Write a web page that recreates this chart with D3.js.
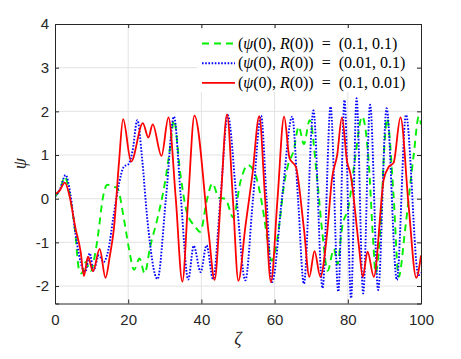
<!DOCTYPE html>
<html>
<head>
<meta charset="utf-8">
<script src="https://cdn.jsdelivr.net/npm/d3@7"></script>
<style>
  body { margin: 0; background: #fff; }
  .axis text { font-family: "Liberation Sans", Arial, sans-serif; font-size: 15px; fill: #262626; }
  .axis path, .axis line { stroke: #262626; }
</style>
</head>
<body>
<div id="chart"></div>
<script>
// Tick values
const xTicks = [0, 20, 40, 60, 80, 100];
const yTicks = [-2, -1, 0, 1, 2, 3, 4];

// Legend labels: [psi0, R0]
const legendLabels = [["0.1", "0.1"], ["0.01", "0.1"], ["0.1", "0.01"]];

// (psi(0), R(0)) = (0.1, 0.1) -- green dashed
const greenZeta = [0, 1.3, 2.7, 4.2, 5.5, 6.5, 7.3, 8.4, 9.7, 11.0, 12.0, 12.9, 14.3, 15.8, 17.0, 18.8, 20.2, 21.6, 23.1, 24.5,
  26.0, 28.0, 30.0, 31.5, 32.5, 34.2, 36.0, 38.3, 39.7, 41.5, 43.0, 44.8, 46.5, 48.7, 50.7, 52.7, 54.8, 56.6, 58.0, 59.2,
  61.5, 62.3, 63.6, 65.2, 66.6, 68.0, 69.6, 71.6, 73.0, 74.5, 76.2, 77.2, 78.4, 80.3, 82.1, 83.9, 85.7, 87.0, 87.6, 88.9,
  90.2, 90.7, 92.5, 93.9, 95.7, 98.0, 99.4, 100];
const greenPsi = [0.05, 0.2, 0.5, 0.0, -0.75, -1.6, -1.71, -1.45, -1.66, -1.25, -0.68, -0.07, 0.32, 0.28, 0.25, -0.45, -1.14, -1.63, -1.37, -1.71,
  -1.1, -0.45, 0.35, 1.2, 1.8, 0.6, -0.3, -0.64, -0.76, -0.03, 0.35, 0.02, 0.0, -0.43, 0.4, 0.77, 0.54, -0.14, -0.9, -1.42,
  -0.45, 0.15, 0.75, 1.1, 1.65, 1.25, 1.8, 0.47, -0.75, -1.65, -1.15, -1.5, -0.68, -0.14, 1.0, 1.88, 0.85, -1.06, -1.7, -0.68,
  1.46, 1.84, 0.08, -1.79, -0.68, 1.0, 1.88, 1.7];

// (psi(0), R(0)) = (0.01, 0.1) -- blue dotted
const blueZeta = [0, 1.3, 2.9, 4.2, 5.6, 7.5, 8.3, 9.5, 10.5, 12.0, 13.3, 14.5, 16.0, 17.5, 18.8, 20.2, 21.2, 22.5, 23.8, 25.2,
  28.0, 30.3, 32.5, 34.4, 36.4, 37.9, 39.8, 41.4, 43.2, 45.2, 47.2, 49.6, 52.0, 54.1, 56.3, 57.8, 59.3, 62.1, 64.8, 66.4,
  68.0, 70.6, 73.1, 75.3, 77.4, 79.1, 80.9, 82.4, 84.2, 86.1, 88.3, 90.6, 93.4, 95.9, 99.3, 100];
const bluePsi = [0.05, 0.2, 0.54, 0.1, -0.8, -1.59, -1.67, -1.25, -1.65, -1.3, -1.45, -1.2, -0.4, 0.35, 0.73, 0.8, 1.1, 1.8, 0.92, -0.45,
  -1.84, 0.0, 1.88, 0.0, -1.85, -1.08, -1.68, -1.07, -1.84, 0.0, 1.91, 0.0, -1.87, 0.0, 1.9, 0.0, -1.91, 0.08, 1.88, 0.0,
  -1.95, 2.02, -2.05, 2.11, -2.13, 2.26, -2.28, 2.3, -2.17, 2.15, -2.09, 2.07, -1.86, 1.92, -1.75, -1.7];

// (psi(0), R(0)) = (0.1, 0.01) -- red solid
const redZeta = [0, 1.2, 2.7, 4.0, 5.6, 7.0, 7.9, 9.0, 10.4, 12.2, 13.8, 15.0, 16.1, 17.5, 18.6, 20.8, 24.0, 25.5, 26.7, 29.1,
  31.0, 33.0, 34.8, 36.4, 38.1, 42.0, 43.6, 45.3, 47.0, 48.6, 50.1, 52.0, 54.0, 55.8, 57.4, 59.0, 60.8, 62.6, 64.1, 65.8,
  68.0, 69.5, 70.9, 72.5, 74.3, 75.7, 77.1, 78.4, 79.8, 80.7, 83.0, 84.1, 85.4, 87.1, 89.8, 91.2, 92.5, 94.4, 96.6, 98.7, 100];
const redPsi = [0.1, 0.18, 0.37, 0.05, -0.68, -1.21, -1.77, -1.33, -1.66, -1.15, -1.81, -1.3, -0.68, 0.85, 1.82, 0.85, 1.73, 1.4, 1.7, 0.98,
  1.86, 0.0, -1.9, 0.0, 1.9, -0.8, -1.86, 0.0, 1.93, 0.0, -1.88, -0.65, 0.6, 1.89, 0.0, -1.91, 0.0, 1.88, 0.92, 0.73,
  -0.68, -1.79, -1.2, -1.79, -0.83, 0.47, 1.0, 1.86, 0.85, 0.58, -1.06, -1.79, -1.21, -1.79, 0.43, 0.73, 0.82, 1.86, -0.14, -1.81, -1.3];

const W = 461, H = 359;
const svg = d3.select("#chart").append("svg")
  .attr("width", W)
  .attr("height", H);

const x = d3.scaleLinear().domain([0, 100]).range([55, 421]);
const y = d3.scaleLinear().domain([-2.4, 4]).range([303.5, 24]);

// grid
svg.append("g").selectAll("line")
  .data(xTicks.slice(1, -1))
  .enter().append("line")
  .attr("x1", d => x(d)).attr("x2", d => x(d))
  .attr("y1", y(-2.4)).attr("y2", y(4))
  .attr("stroke", "#e3e3e3").attr("stroke-width", 1);
svg.append("g").selectAll("line")
  .data(yTicks.slice(0, -1))
  .enter().append("line")
  .attr("x1", x(0)).attr("x2", x(100))
  .attr("y1", d => y(d)).attr("y2", d => y(d))
  .attr("stroke", "#e3e3e3").attr("stroke-width", 1);

// curves
const line = d3.line()
  .x(d => x(d[0]))
  .y(d => y(d[1]))
  .curve(d3.curveMonotoneX);

const series = [
  { zeta: greenZeta, psi: greenPsi, color: "#00f000", dash: "7,5", width: 1.9 },
  { zeta: blueZeta, psi: bluePsi, color: "#0000ff", dash: "1.6,1.6", width: 1.9 },
  { zeta: redZeta, psi: redPsi, color: "#ff0000", dash: null, width: 1.8 }
];

const plot = svg.append("g");
plot.append("clipPath").attr("id", "clip")
  .append("rect")
  .attr("x", x(0)).attr("y", y(4))
  .attr("width", x(100) - x(0)).attr("height", y(-2.4) - y(4));

series.forEach(s => {
  plot.append("path")
    .datum(s.zeta.map((z, i) => [z, s.psi[i]]))
    .attr("clip-path", "url(#clip)")
    .attr("fill", "none")
    .attr("stroke", s.color)
    .attr("stroke-width", s.width)
    .attr("stroke-dasharray", s.dash)
    .attr("d", line);
});

// legend (white background, no border)
const legend = svg.append("g");
legend.append("rect")
  .attr("x", 197).attr("y", 29)
  .attr("width", 220).attr("height", 63)
  .attr("fill", "#fff");

legendLabels.forEach((lab, i) => {
  const s = series[i];
  const ly = 43.5 + i * 19.7;
  legend.append("line")
    .attr("x1", 202).attr("x2", 235)
    .attr("y1", ly).attr("y2", ly)
    .attr("stroke", s.color)
    .attr("stroke-width", s.width)
    .attr("stroke-dasharray", s.dash);
  const t = legend.append("text")
    .attr("x", 238).attr("y", ly + 5)
    .style("font-family", "'Liberation Serif', 'Times New Roman', serif")
    .style("font-size", "16px")
    .style("white-space", "pre")
    .attr("fill", "#000");
  t.append("tspan").text("(");
  t.append("tspan").style("font-style", "italic").text("ψ");
  t.append("tspan").text("(0), ");
  t.append("tspan").style("font-style", "italic").text("R");
  t.append("tspan").text("(0))\u2002=\u2002(" + lab[0] + ", " + lab[1] + ")");
});

// axes, ticks inside on all sides
svg.append("g")
  .attr("class", "axis")
  .attr("transform", "translate(0," + y(-2.4) + ")")
  .call(d3.axisBottom(x).tickValues(xTicks).tickSize(-4).tickPadding(11));
svg.append("g")
  .attr("class", "axis")
  .attr("transform", "translate(" + x(0) + ",0)")
  .call(d3.axisLeft(y).tickValues(yTicks).tickSize(-4).tickPadding(6).tickFormat(d3.format("d")));
svg.append("g")
  .attr("class", "axis")
  .attr("transform", "translate(0," + y(4) + ")")
  .call(d3.axisTop(x).tickValues(xTicks).tickSize(-4).tickFormat(""));
svg.append("g")
  .attr("class", "axis")
  .attr("transform", "translate(" + x(100) + ",0)")
  .call(d3.axisRight(y).tickValues(yTicks).tickSize(-4).tickFormat(""));

svg.selectAll(".axis .domain").attr("stroke", "#262626");
// fix minus sign to hyphen like the original
svg.selectAll(".axis text").text(function() { return d3.select(this).text().replace("−", "-"); });

// axis labels
svg.append("text")
  .attr("x", (x(0) + x(100)) / 2).attr("y", 345)
  .attr("text-anchor", "middle")
  .style("font-family", "'Liberation Serif', serif")
  .style("font-style", "italic")
  .style("font-size", "18px")
  .attr("fill", "#262626")
  .text("ζ");
svg.append("text")
  .attr("transform", "translate(26," + ((y(-2.4) + y(4)) / 2) + ") rotate(-90)")
  .attr("text-anchor", "middle")
  .style("font-family", "'Liberation Serif', serif")
  .style("font-style", "italic")
  .style("font-size", "18px")
  .attr("fill", "#262626")
  .text("ψ");
</script>
</body>
</html>
